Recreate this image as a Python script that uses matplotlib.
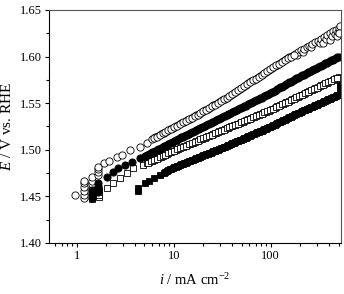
import numpy as np
import matplotlib
matplotlib.use('Agg')
import matplotlib.pyplot as plt
from matplotlib.ticker import FixedLocator, NullFormatter, LogLocator, MultipleLocator

plt.rcParams['font.family'] = ['Liberation Serif', 'DejaVu Serif']
plt.rcParams['mathtext.fontset'] = 'custom'
plt.rcParams['mathtext.rm'] = 'Liberation Serif'
plt.rcParams['mathtext.it'] = 'Liberation Serif:italic'

i_grid = [4.90, 5.25, 5.62, 6.03, 6.46, 6.92, 7.41, 7.94, 8.51, 9.12,
          9.77, 10.5, 11.2, 12.0, 12.9, 13.8, 14.8, 15.8, 17.0, 18.2,
          19.5, 20.9, 22.4, 24.0, 25.7, 27.5, 29.5, 31.6, 33.9, 36.3,
          38.9, 41.7, 44.7, 47.9, 51.3, 55.0, 58.9, 63.1, 67.6, 72.4,
          77.6, 83.2, 89.1, 95.5, 102, 110, 117, 126, 135, 145,
          155, 166, 178, 191, 204, 219, 234, 251, 269, 288,
          309, 331, 355, 380, 407, 437, 468, 501]
i_grid2 = [5.07, 5.43, 5.82, 6.24, 6.68, 7.16, 7.67, 8.22, 8.81, 9.44,
           10.1, 10.8, 11.6, 12.4, 13.3, 14.3, 15.3, 16.4, 17.6, 18.8,
           20.2, 21.6, 23.2, 24.8, 26.6, 28.5, 30.5, 32.7, 35.1, 37.6,
           40.3, 43.2, 46.2, 49.5, 53.1, 56.9, 61.0, 65.3, 70.0, 75.0,
           80.4, 86.1, 92.3, 98.9, 106, 114, 122, 130, 140, 150,
           160, 172, 184, 197, 211, 226, 243, 260, 279, 299,
           320, 343, 367, 394, 422, 452, 484]

# open circles
i_a_low = [0.97, 1.19, 1.19, 1.19, 1.19, 1.19, 1.19, 1.45, 1.45, 1.45,
           1.45, 1.67, 1.67, 1.67, 1.67, 1.93, 2.17, 2.58, 2.91, 3.55,
           4.50, 5.25]
i_a_end = [186, 191, 204, 214, 219, 234, 251, 263, 269, 288,
           309, 324, 331, 347, 355, 372, 380, 407, 407, 427,
           437, 457, 468, 479, 490, 501, 513, 501]
i_a = i_a_low + i_grid[3:53] + i_a_end + i_grid2[3:52]
e_a = [1.452, 1.448, 1.452, 1.456, 1.460, 1.464, 1.467, 1.459, 1.463, 1.467,
       1.471, 1.473, 1.476, 1.479, 1.482, 1.4855, 1.4875, 1.4925, 1.4945, 1.4998,
       1.5033, 1.507,
       1.5117, 1.5134, 1.5150, 1.5167, 1.5184, 1.5201, 1.5218, 1.5234, 1.5251, 1.5268,
       1.5285, 1.5302, 1.5318, 1.5335, 1.5352, 1.5369, 1.5386, 1.5404, 1.5422, 1.5440,
       1.5458, 1.5476, 1.5494, 1.5512, 1.5530, 1.5550, 1.5571, 1.5591, 1.5612, 1.5632,
       1.5652, 1.5673, 1.5693, 1.5714, 1.5734, 1.5754, 1.5775, 1.5795, 1.5816, 1.5836,
       1.5856, 1.5876, 1.5896, 1.5915, 1.5934, 1.5953, 1.5972, 1.5991, 1.6010, 1.6030,
       1.6015, 1.6050, 1.6068, 1.6050, 1.6085, 1.6100, 1.6118, 1.6100, 1.6135, 1.6152,
       1.6168, 1.6150, 1.6190, 1.6150, 1.6210, 1.6190, 1.6230, 1.6250, 1.6180, 1.6220,
       1.6270, 1.6240, 1.6290, 1.6220, 1.6260, 1.6310, 1.6330, 1.6250,
       1.5125, 1.5142, 1.5158, 1.5175, 1.5192, 1.5209, 1.5226, 1.5242, 1.5259, 1.5276,
       1.5293, 1.5310, 1.5326, 1.5343, 1.5360, 1.5377, 1.5395, 1.5413, 1.5431, 1.5449,
       1.5467, 1.5485, 1.5503, 1.5521, 1.5540, 1.5560, 1.5581, 1.5601, 1.5622, 1.5642,
       1.5662, 1.5683, 1.5703, 1.5724, 1.5744, 1.5764, 1.5785, 1.5805, 1.5826, 1.5846,
       1.5866, 1.5886, 1.5905, 1.5924, 1.5943, 1.5962, 1.5981, 1.6000, 1.6020]

# filled circles
i_b_low = [1.43, 1.43, 1.43, 1.43, 1.67, 1.67, 1.67, 1.67, 2.04, 2.39,
           2.69, 3.15, 3.69, 4.50]
i_b = i_b_low + i_grid + i_grid2
e_b = [1.448, 1.451, 1.454, 1.457, 1.455, 1.458, 1.461, 1.464, 1.471, 1.4765,
       1.480, 1.4837, 1.4873, 1.4909,
       1.4925, 1.4941, 1.4957, 1.4973, 1.4989, 1.5005, 1.5021, 1.5037, 1.5053, 1.5069,
       1.5085, 1.5100, 1.5116, 1.5132, 1.5147, 1.5163, 1.5178, 1.5194, 1.5210, 1.5225,
       1.5241, 1.5256, 1.5272, 1.5288, 1.5303, 1.5319, 1.5334, 1.5350, 1.5366, 1.5381,
       1.5397, 1.5412, 1.5428, 1.5444, 1.5459, 1.5475, 1.5490, 1.5506, 1.5522, 1.5537,
       1.5553, 1.5568, 1.5584, 1.5600, 1.5616, 1.5634, 1.5652, 1.5670, 1.5688, 1.5706,
       1.5724, 1.5741, 1.5757, 1.5773, 1.5790, 1.5806, 1.5822, 1.5838, 1.5854, 1.5870,
       1.5887, 1.5903, 1.5919, 1.5935, 1.5951, 1.5968, 1.5984, 1.6000,
       1.4933, 1.4949, 1.4965, 1.4981, 1.4997, 1.5013, 1.5029, 1.5045, 1.5061, 1.5077,
       1.5092, 1.5108, 1.5124, 1.5140, 1.5155, 1.5170, 1.5186, 1.5202, 1.5218, 1.5233,
       1.5248, 1.5264, 1.5280, 1.5296, 1.5311, 1.5326, 1.5342, 1.5358, 1.5374, 1.5389,
       1.5404, 1.5420, 1.5436, 1.5452, 1.5467, 1.5482, 1.5498, 1.5514, 1.5530, 1.5545,
       1.5560, 1.5576, 1.5592, 1.5608, 1.5625, 1.5643, 1.5661, 1.5679, 1.5697, 1.5715,
       1.5732, 1.5749, 1.5765, 1.5782, 1.5798, 1.5814, 1.5830, 1.5846, 1.5862, 1.5878,
       1.5895, 1.5911, 1.5927, 1.5943, 1.5960, 1.5976, 1.5992]

# open squares
i_c_low = [1.43, 1.43, 1.71, 1.71, 1.71, 1.71, 2.04, 2.39, 2.79, 3.28,
           3.84, 4.86]
i_c = i_c_low + i_grid[1:] + [513] + i_grid2[1:]
e_c = [1.4475, 1.450, 1.4497, 1.452, 1.4545, 1.457, 1.4587, 1.464, 1.4694, 1.4748,
       1.480, 1.4837,
       1.4855, 1.4870, 1.4884, 1.4899, 1.4913, 1.4928, 1.4942, 1.4956, 1.4971,
       1.4985, 1.4999, 1.5012, 1.5025, 1.5038, 1.5052, 1.5065, 1.5078, 1.5091, 1.5104,
       1.5118, 1.5131, 1.5144, 1.5157, 1.5170, 1.5184, 1.5197, 1.5210, 1.5223, 1.5236,
       1.5250, 1.5263, 1.5276, 1.5289, 1.5302, 1.5316, 1.5329, 1.5342, 1.5355, 1.5368,
       1.5382, 1.5395, 1.5408, 1.5421, 1.5435, 1.5450, 1.5465, 1.5480, 1.5495, 1.5510,
       1.5525, 1.5540, 1.5555, 1.5570, 1.5585, 1.5600, 1.5615, 1.5630, 1.5645, 1.5660,
       1.5675, 1.5690, 1.5705, 1.5720, 1.5735, 1.5750, 1.5765, 1.5780,
       1.5770,
       1.4862, 1.4877, 1.4891, 1.4906, 1.4920, 1.4935, 1.4949, 1.4963, 1.4978,
       1.4992, 1.5005, 1.5018, 1.5031, 1.5045, 1.5058, 1.5071, 1.5084, 1.5097, 1.5111,
       1.5124, 1.5137, 1.5150, 1.5163, 1.5177, 1.5190, 1.5203, 1.5216, 1.5229, 1.5243,
       1.5256, 1.5269, 1.5282, 1.5295, 1.5309, 1.5322, 1.5335, 1.5348, 1.5361, 1.5375,
       1.5388, 1.5401, 1.5414, 1.5428, 1.5442, 1.5457, 1.5472, 1.5487, 1.5502, 1.5517,
       1.5532, 1.5547, 1.5562, 1.5577, 1.5592, 1.5607, 1.5622, 1.5637, 1.5652, 1.5667,
       1.5682, 1.5697, 1.5712, 1.5727, 1.5742, 1.5757, 1.5772]

# filled squares
i_d_low = [4.30, 4.30, 5.06, 5.62, 6.20, 7.20]
i_d = i_d_low + i_grid[7:] + [513] * 6 + i_grid2[7:]
e_d = [1.4555, 1.4585, 1.464, 1.4665, 1.4694, 1.473,
       1.4755, 1.4773, 1.4790,
       1.4806, 1.4818, 1.4831, 1.4844, 1.4856, 1.4869, 1.4882, 1.4894, 1.4907, 1.4919,
       1.4932, 1.4945, 1.4957, 1.4970, 1.4982, 1.4995, 1.5008, 1.5020, 1.5034, 1.5048,
       1.5062, 1.5075, 1.5089, 1.5103, 1.5117, 1.5131, 1.5144, 1.5158, 1.5172, 1.5186,
       1.5200, 1.5213, 1.5227, 1.5241, 1.5255, 1.5270, 1.5286, 1.5301, 1.5317, 1.5333,
       1.5348, 1.5364, 1.5379, 1.5393, 1.5407, 1.5422, 1.5436, 1.5450, 1.5464, 1.5478,
       1.5492, 1.5506, 1.5520, 1.5535, 1.5549, 1.5563, 1.5577, 1.5590,
       1.5600, 1.5620, 1.5640, 1.5660, 1.5680, 1.5700,
       1.4764, 1.4782, 1.4798,
       1.4812, 1.4825, 1.4838, 1.4850, 1.4863, 1.4876, 1.4888, 1.4901, 1.4913, 1.4926,
       1.4939, 1.4951, 1.4964, 1.4976, 1.4989, 1.5002, 1.5014, 1.5027, 1.5041, 1.5055,
       1.5069, 1.5082, 1.5096, 1.5110, 1.5124, 1.5138, 1.5151, 1.5165, 1.5179, 1.5193,
       1.5207, 1.5220, 1.5234, 1.5248, 1.5263, 1.5278, 1.5294, 1.5309, 1.5325, 1.5341,
       1.5356, 1.5372, 1.5386, 1.5400, 1.5415, 1.5429, 1.5443, 1.5457, 1.5471, 1.5485,
       1.5499, 1.5513, 1.5528, 1.5542, 1.5556, 1.5570, 1.5584]

fig = plt.figure(figsize=(3.44, 2.94), dpi=100)
ax = fig.add_axes([0.1424, 0.1735, 0.849, 0.7925])

ax.plot(i_a, e_a, 'o', ms=5.2, mfc='white', mec='black', mew=0.6, ls='none')
ax.plot(i_c, e_c, 's', ms=4.7, mfc='white', mec='black', mew=0.6, ls='none')
ax.plot(i_b, e_b, 'o', ms=5.2, mfc='black', mec='black', mew=0.6, ls='none')
ax.plot(i_d, e_d, 's', ms=4.7, mfc='black', mec='black', mew=0.6, ls='none')

ax.set_xscale('log')
ax.set_xlim(0.518, 531)
ax.set_ylim(1.40, 1.65)

ax.xaxis.set_major_locator(FixedLocator([1, 10, 100]))
ax.set_xticklabels(['1', '10', '100'])
ax.xaxis.set_minor_locator(LogLocator(base=10, subs=np.arange(2, 10)))
ax.xaxis.set_minor_formatter(NullFormatter())
ax.yaxis.set_major_locator(MultipleLocator(0.05))
ax.yaxis.set_minor_locator(MultipleLocator(0.025))
ax.yaxis.set_major_formatter(plt.FormatStrFormatter('%.2f'))

ax.tick_params(which='both', direction='out', top=False, right=False,
               labelsize=9, width=0.8, pad=2)
ax.tick_params(which='major', length=3)
ax.tick_params(which='minor', length=2)
for s in ax.spines.values():
    s.set_linewidth(0.8)
    s.set_color('#555555')
ax.spines['left'].set_color('black')
ax.spines['bottom'].set_color('black')

ax.set_xlabel(r'$i$ / mA cm$^{-2}$', fontsize=10.5, labelpad=7)
ax.set_ylabel(r'$E$ / V vs. RHE', fontsize=11, labelpad=4)

fig.savefig('out.png', dpi=100)
